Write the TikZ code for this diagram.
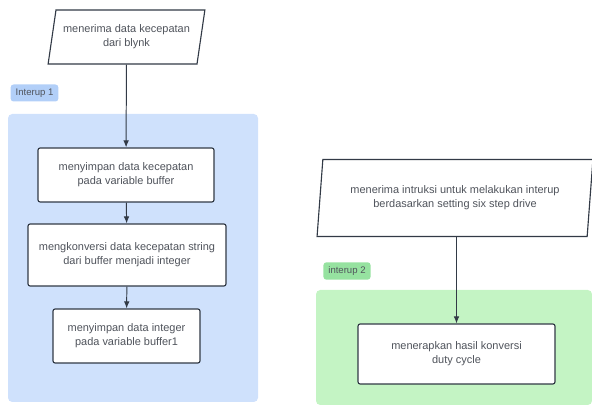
\documentclass[tikz,border=0pt]{standalone}
\usepackage{fontspec}
\setmainfont{Liberation Sans}
\usetikzlibrary{shapes.geometric,arrows.meta}
\definecolor{biru}{RGB}{207,225,252}
\definecolor{birutag}{RGB}{178,207,248}
\definecolor{hijau}{RGB}{196,244,196}
\definecolor{hijautag}{RGB}{150,226,160}
\definecolor{garis}{RGB}{50,58,70}
\definecolor{teks}{RGB}{80,84,92}
\def\px{0.025cm}

\begin{document}
\begin{tikzpicture}[x=\px,y=-\px,
        font=\fontsize{7.8}{9.8}\selectfont,text=teks,
        proses/.style={draw=garis,line width=0.8pt,fill=white,rounded corners=1.5pt,align=center,inner sep=2pt},
        masukan/.style={trapezium,trapezium left angle=76,trapezium right angle=104,trapezium stretches=true,draw=garis,line width=0.8pt,fill=white,align=center,inner sep=2pt},
        tag/.style={rounded corners=2pt,inner xsep=3.5pt,inner ysep=3pt,font=\fontsize{6.8}{8}\selectfont},
        panah/.style={-{Latex[length=5pt,width=4pt]},garis,line width=0.7pt}]
        \useasboundingbox (0,0) rectangle (592,405);

        % area interup
        \fill[biru,rounded corners=3pt] (8,114) rectangle (258,402);
        \fill[hijau,rounded corners=3pt] (316,290) rectangle (592,405);
        \node[tag,fill=birutag] (t1) at (34.5,93) {Interup 1};
        \node[tag,fill=hijautag] (t2) at (347,271) {interup 2};

        \node[masukan,minimum width=157*\px,minimum height=54*\px] (a) at (126.5,37) {menerima data kecepatan\\dari blynk};
        \node[proses,minimum width=176*\px,minimum height=54*\px] (b) at (126,175) {menyimpan data kecepatan\\pada variable buffer};
        \node[proses,minimum width=198*\px,minimum height=62*\px] (c) at (127,255) {mengkonversi data kecepatan string\\dari buffer menjadi integer};
        \node[proses,minimum width=147*\px,minimum height=54*\px] (d) at (126.5,336) {menyimpan data integer\\pada variable buffer1};

        \node[masukan,trapezium left angle=81,trapezium right angle=99,minimum width=276*\px,minimum height=77*\px] (e) at (455,198) {menerima intruksi untuk melakukan interup\\berdasarkan setting six step drive};
        \node[proses,minimum width=197*\px,minimum height=60*\px] (f) at (456.5,354) {menerapkan hasil konversi\\duty cycle};

        \draw[panah] (a) -- (b);
        \draw[panah] (b) -- (c);
        \draw[panah] (c) -- (d);
        \draw[panah] (e.south -| f.north) -- (f);
    \end{tikzpicture}
\end{document}
